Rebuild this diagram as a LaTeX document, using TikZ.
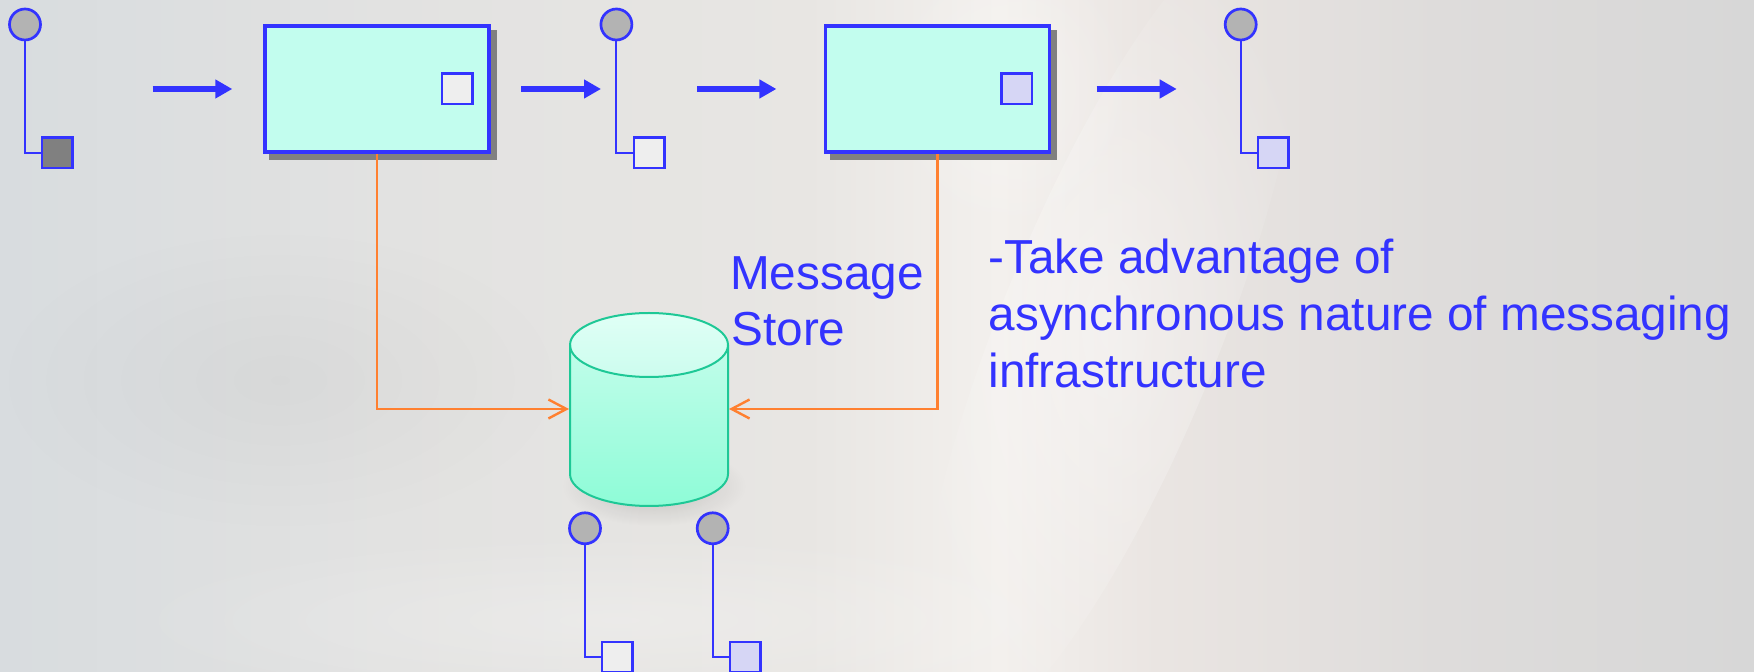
\documentclass[tikz,border=0pt]{standalone}
\usepackage{fontspec}
\setmainfont{Liberation Sans}
\usetikzlibrary{arrows.meta,calc,fadings}

\definecolor{portblue}{RGB}{51,51,255}
\definecolor{boxfill}{RGB}{194,253,238}
\definecolor{shadowgrey}{RGB}{128,128,128}
\definecolor{knobgrey}{RGB}{179,179,179}
\definecolor{darkslot}{RGB}{128,128,128}
\definecolor{paleslot}{RGB}{238,238,238}
\definecolor{lavslot}{RGB}{214,214,245}
\definecolor{linkorange}{RGB}{255,128,48}
\definecolor{dbedge}{RGB}{30,200,150}
\definecolor{dbtop}{RGB}{224,255,246}
\definecolor{dbmid}{RGB}{204,253,238}
\definecolor{dbbot}{RGB}{142,252,215}

% soft backdrop, light grey with a brighter band
\pgfdeclarehorizontalshading{backdrop}{100bp}{
  color(0bp)=(rgb,255:red,216;green,220;blue,223);
  color(25bp)=(rgb,255:red,216;green,220;blue,223);
  color(36bp)=(rgb,255:red,226;green,226;blue,225);
  color(48bp)=(rgb,255:red,232;green,230;blue,227);
  color(53.5bp)=(rgb,255:red,243;green,240;blue,237);
  color(58bp)=(rgb,255:red,234;green,229;blue,226);
  color(66bp)=(rgb,255:red,222;green,220;blue,219);
  color(75bp)=(rgb,255:red,215;green,215;blue,215);
  color(100bp)=(rgb,255:red,215;green,215;blue,215)}

\tikzfading[name=softblob, inner color=transparent!0, outer color=transparent!100]

\pgfdeclarelayer{bg}
\pgfsetlayers{bg,main}

\begin{document}
\begin{tikzpicture}[x=0.5pt,y=-0.5pt,
  procbox/.style={draw=portblue, line width=1.75pt, fill=boxfill,
    minimum width=112pt, minimum height=63pt, inner sep=0pt},
  knob/.style={circle, draw=portblue, line width=1.35pt, fill=knobgrey,
    minimum size=15.5pt, inner sep=0pt},
  slot/.style={draw=portblue, line width=1.2pt, minimum size=15.3pt, inner sep=0pt},
  stem/.style={draw=portblue, line width=1pt},
  flow/.style={draw=portblue, line width=3pt, -{Triangle[length=8.5pt,width=9pt]}},
  storelink/.style={draw=linkorange, line width=1.2pt,
    -{Straight Barb[length=9pt,width=9.5pt]}},
  caption/.style={text=portblue, font=\fontsize{23.85}{28.6}\selectfont,
    inner sep=0pt, anchor=base west}]

\useasboundingbox (0,0) rectangle (1754,672);

% backdrop
\begin{pgfonlayer}{bg}
  \shade[shading=backdrop] (0,0) rectangle (1754,672);
  \fill[white, opacity=0.38, path fading=softblob,
        rotate around={-22:(1110,330)}] (1110,330) ellipse [x radius=110, y radius=440];
  \fill[white, opacity=0.30, path fading=softblob] (1010,90) ellipse [x radius=130, y radius=150];
  \fill[black!60, opacity=0.06, path fading=softblob] (280,380) ellipse [x radius=280, y radius=150];
  \fill[white, opacity=0.25, path fading=softblob] (620,620) ellipse [x radius=520, y radius=90];
\end{pgfonlayer}

% process boxes
\node[procbox] (b1) at (377,89.2) {};
\node[procbox] (b2) at (937.5,89.2) {};
\begin{pgfonlayer}{bg}
  \fill[shadowgrey] ($(b1.north west)+(6,6)$) rectangle ($(b1.south east)+(6,6)$);
  \fill[shadowgrey] ($(b2.north west)+(6,6)$) rectangle ($(b2.south east)+(6,6)$);
\end{pgfonlayer}
\node[slot, fill=paleslot] (i1) at (457,88.7) {};
\node[slot, fill=lavslot] (i2) at (1016.6,88.7) {};

% channel ports: knob, stem and slot
\node[knob] (k1) at (25,24.5) {};
\node[slot, fill=darkslot] (s1) at (57,153) {};
\node[knob] (k2) at (616.4,24.5) {};
\node[slot, fill=paleslot] (s2) at (649.3,153) {};
\node[knob] (k3) at (1240.7,24.5) {};
\node[slot, fill=lavslot] (s3) at (1273,153) {};
\node[knob] (k4) at (585,528.3) {};
\node[slot, fill=paleslot] (s4) at (617,657) {};
\node[knob] (k5) at (712.7,528.3) {};
\node[slot, fill=lavslot] (s5) at (745,657) {};
\foreach \k/\s in {k1/s1,k2/s2,k3/s3,k4/s4,k5/s5}
  \draw[stem] (\k.south) |- (\s.west);

% message flow arrows
\coordinate (f1a) at (152.7,89); \coordinate (f1b) at (232.3,89);
\coordinate (f2a) at (521,89);   \coordinate (f2b) at (601,89);
\coordinate (f3a) at (697,89);   \coordinate (f3b) at (776.4,89);
\coordinate (f4a) at (1096.7,89);\coordinate (f4b) at (1176.7,89);
\draw[flow] (f1a) -- (f1b);
\draw[flow] (f2a) -- (f2b);
\draw[flow] (f3a) -- (f3b);
\draw[flow] (f4a) -- (f4b);

% message store cylinder
\fill[black, opacity=0.16, path fading=softblob] (654,486) ellipse [x radius=92, y radius=40];
\shade[top color=dbmid, bottom color=dbbot]
  (570,345) -- (570,474) arc[start angle=180, end angle=0, x radius=79, y radius=32]
  -- (728,345) arc[start angle=0, end angle=-180, x radius=79, y radius=32] -- cycle;
\shade[top color=dbtop, bottom color=dbmid] (649,345) ellipse [x radius=79, y radius=32];
\draw[dbedge, line width=1pt]
  (570,345) -- (570,474) arc[start angle=180, end angle=0, x radius=79, y radius=32]
  -- (728,345);
\draw[dbedge, line width=1pt] (649,345) ellipse [x radius=79, y radius=32];
\node[minimum width=80pt, minimum height=96.5pt, inner sep=0pt, outer sep=0pt] (db) at (649,409) {};

% store links
\draw[storelink] (b1.south) |- (db.west);
\draw[storelink] (b2.south) |- (db.east);

% labels
\node[caption] (ms1) at (729.8,289.3) {Message};
\node[caption] (ms2) at (731,345.5) {Store};
\node[caption] (t1) at (988,273.3) {-Take advantage of};
\node[caption] (t2) at (988.3,330.5) {asynchronous nature of messaging};
\node[caption] (t3) at (988,388) {infrastructure};
\end{tikzpicture}
\end{document}
